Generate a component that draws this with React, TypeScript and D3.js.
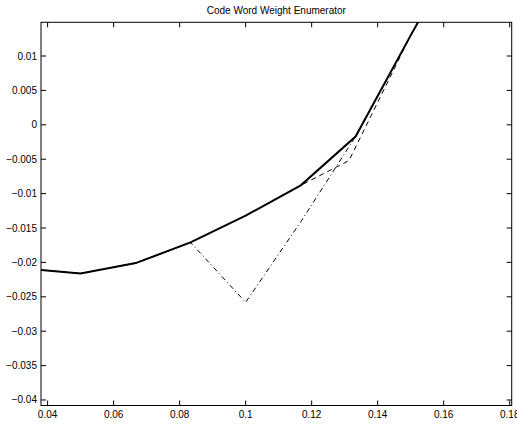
import { useEffect, useRef } from "react";
import * as d3 from "d3";

// data
const xSolid = [0.0333, 0.05, 0.0667, 0.0833, 0.1, 0.1167, 0.1333, 0.15, 0.1667];
const ySolid = [-0.0209, -0.0216, -0.0201, -0.0171, -0.0132, -0.0088, -0.0017, 0.013, 0.0273];

const xDashed = [0.0333, 0.05, 0.0667, 0.0833, 0.1, 0.1167, 0.1313, 0.15, 0.1667];
const yDashed = [-0.0209, -0.0216, -0.0201, -0.0171, -0.0132, -0.0088, -0.0052, 0.013, 0.0273];

const xDashDot = [0.0333, 0.05, 0.0667, 0.0833, 0.1, 0.1167, 0.1333, 0.15, 0.1667];
const yDashDot = [-0.0209, -0.0216, -0.0201, -0.0171, -0.0258, -0.0141, -0.0017, 0.013, 0.0273];

const xTicks = [0.04, 0.06, 0.08, 0.1, 0.12, 0.14, 0.16, 0.18];
const yTicks = [0.01, 0.005, 0, -0.005, -0.01, -0.015, -0.02, -0.025, -0.03, -0.035, -0.04];

const title = "Code Word Weight Enumerator";

export default function App() {
  const svgRef = useRef<SVGSVGElement>(null);

  useEffect(() => {
    const svg = d3.select(svgRef.current);
    svg.selectAll("*").remove();

    const width = 517;
    const height = 426;
    const left = 41, right = 511.7, top = 22.3, bottom = 405.5;

    const x = d3.scaleLinear().domain([0.038, 0.1806]).range([left, right]);
    const y = d3.scaleLinear().domain([-0.0408, 0.0149]).range([bottom, top]);

    svg.attr("width", width).attr("height", height);

    svg.append("defs").append("clipPath").attr("id", "plotclip")
      .append("rect")
      .attr("x", left).attr("y", top)
      .attr("width", right - left).attr("height", bottom - top);

    const line = d3.line<[number, number]>()
      .x(d => x(d[0]))
      .y(d => y(d[1]));

    const plot = svg.append("g").attr("clip-path", "url(#plotclip)");

    const zip = (xs: number[], ys: number[]) => xs.map((v, i) => [v, ys[i]] as [number, number]);

    plot.append("path")
      .attr("d", line(zip(xDashDot, yDashDot)))
      .attr("fill", "none")
      .attr("stroke", "#000")
      .attr("stroke-width", 1)
      .attr("stroke-dasharray", "5,3,1,3");

    plot.append("path")
      .attr("d", line(zip(xDashed, yDashed)))
      .attr("fill", "none")
      .attr("stroke", "#000")
      .attr("stroke-width", 1)
      .attr("stroke-dasharray", "5,4");

    plot.append("path")
      .attr("d", line(zip(xSolid, ySolid)))
      .attr("fill", "none")
      .attr("stroke", "#000")
      .attr("stroke-width", 2);

    // frame
    svg.append("rect")
      .attr("x", left).attr("y", top)
      .attr("width", right - left).attr("height", bottom - top)
      .attr("fill", "none")
      .attr("stroke", "#000")
      .attr("stroke-width", 1);

    const tickLen = 5;
    const font = "Liberation Sans, Arial, Helvetica, sans-serif";
    const fmt = (v: number) => (v < 0 ? "\u2212" : "") + String(Math.abs(v));

    const xg = svg.append("g");
    xTicks.forEach(t => {
      const px = x(t);
      xg.append("line").attr("x1", px).attr("x2", px).attr("y1", bottom).attr("y2", bottom - tickLen).attr("stroke", "#000");
      xg.append("line").attr("x1", px).attr("x2", px).attr("y1", top).attr("y2", top + tickLen).attr("stroke", "#000");
      xg.append("text")
        .attr("x", px).attr("y", 418)
        .attr("text-anchor", "middle")
        .attr("font-family", font).attr("font-size", 10)
        .text(fmt(t));
    });

    const yg = svg.append("g");
    yTicks.forEach(t => {
      const py = y(t);
      yg.append("line").attr("x1", left).attr("x2", left + tickLen).attr("y1", py).attr("y2", py).attr("stroke", "#000");
      yg.append("line").attr("x1", right).attr("x2", right - tickLen).attr("y1", py).attr("y2", py).attr("stroke", "#000");
      yg.append("text")
        .attr("x", 37).attr("y", py + 3.5)
        .attr("text-anchor", "end")
        .attr("font-family", font).attr("font-size", 10)
        .text(fmt(t));
    });

    svg.append("text")
      .attr("x", (left + right) / 2).attr("y", 14)
      .attr("text-anchor", "middle")
      .attr("font-family", font).attr("font-size", 10)
      .text(title);
  }, []);

  return <svg ref={svgRef} style={{ position: "absolute", left: 0, top: 0 }} />;
}
